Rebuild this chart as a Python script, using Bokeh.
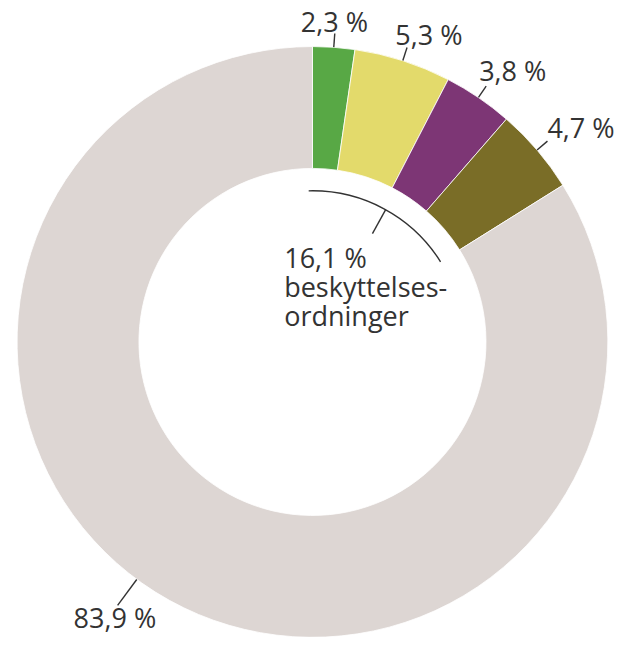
import math
from bokeh.plotting import figure
from bokeh.models import Range1d
from bokeh.core.properties import value
from bokeh.embed import file_html
from bokeh.resources import INLINE

# ---- data ----
shares = [2.3, 5.3, 3.8, 4.7, 83.9]
colors = ["#58a845", "#e3da6b", "#7d3675", "#7a6d27", "#ddd6d3"]
protected_text = ["beskyttelses-", "ordninger"]

def fmt(v):
    return f"{v:.1f}".replace(".", ",") + " %"

# figure canvas; data space spans the reference picture (637 x 653)
W, H = 621, 637
RW, RH = 637, 653
p = figure(width=W, height=H, output_backend="svg", toolbar_location=None,
           x_range=Range1d(0, RW), y_range=Range1d(0, RH),
           x_axis_location=None, y_axis_location=None, min_border=0)
p.grid.visible = False
p.outline_line_color = None
p.background_fill_color = "white"

def P(px, py):
    # reference pixel -> data coords
    return px, RH - py

TOFF = 10  # text baseline correction (data units)

def T(px, py):
    x, y = P(px, py)
    return x, y + TOFF

cx, cy = P(320, 350)
R_OUT, R_IN = 303, 178
total = sum(shares)

def ang(frac):
    # fraction of circle clockwise from top -> bokeh angle
    return math.pi / 2 - frac * 2 * math.pi

starts, ends, mids = [], [], []
cum = 0.0
for s in shares:
    a0 = cum / total
    cum += s
    a1 = cum / total
    starts.append(ang(a1))
    ends.append(ang(a0))
    mids.append((a0 + a1) / 2)

p.annular_wedge(x=cx, y=cy, inner_radius=R_IN, outer_radius=R_OUT,
                start_angle=starts, end_angle=ends, direction="anticlock",
                fill_color=colors, line_color="white", line_width=0.8)

TXT = "#333333"
FONT = value("Open Sans")
FS = "27px"

# outer leaders for small slices
label_pos = [(308, 32), (405, 45), (491, 82), (561, 140)]
for i in range(4):
    a = ang(mids[i])
    x0 = cx + R_OUT * math.cos(a); y0 = cy + R_OUT * math.sin(a)
    x1 = cx + (R_OUT + 14) * math.cos(a); y1 = cy + (R_OUT + 14) * math.sin(a)
    p.segment(x0=[x0], y0=[y0], x1=[x1], y1=[y1], line_color=TXT, line_width=1.4)
    lx, ly = T(*label_pos[i])
    p.text(x=[lx], y=[ly], text=[fmt(shares[i])], text_font=FONT, text_font_size=FS,
           text_color=TXT, text_align="left", text_baseline="alphabetic")

# leader for large slice
a = ang(0.6014)
x0 = cx + R_OUT * math.cos(a); y0 = cy + R_OUT * math.sin(a)
x1 = cx + (R_OUT + 33) * math.cos(a); y1 = cy + (R_OUT + 33) * math.sin(a)
p.segment(x0=[x0], y0=[y0], x1=[x1], y1=[y1], line_color=TXT, line_width=1.4)
lx, ly = T(75, 642)
p.text(x=[lx], y=[ly], text=[fmt(shares[4])], text_font=FONT, text_font_size=FS,
       text_color=TXT, text_align="left", text_baseline="alphabetic")

# inner bracket arc over protected share
prot = sum(shares[:4])
R_B = 155
p.arc(x=cx, y=cy, radius=R_B, start_angle=ang(prot / total), end_angle=ang(-0.004),
      direction="anticlock", line_color=TXT, line_width=1.4)
am = ang(prot / total / 2)
p.segment(x0=[cx + R_B * math.cos(am)], y0=[cy + R_B * math.sin(am)],
          x1=[cx + (R_B - 28) * math.cos(am)], y1=[cy + (R_B - 28) * math.sin(am)],
          line_color=TXT, line_width=1.4)

center_lines = [fmt(prot)] + protected_text
baselines = [273, 303, 333]
for t, b in zip(center_lines, baselines):
    lx, ly = T(291, b)
    p.text(x=[lx], y=[ly], text=[t], text_font=FONT, text_font_size=FS,
           text_color=TXT, text_align="left", text_baseline="alphabetic")

open("out.html", "w").write(file_html(p, INLINE))
